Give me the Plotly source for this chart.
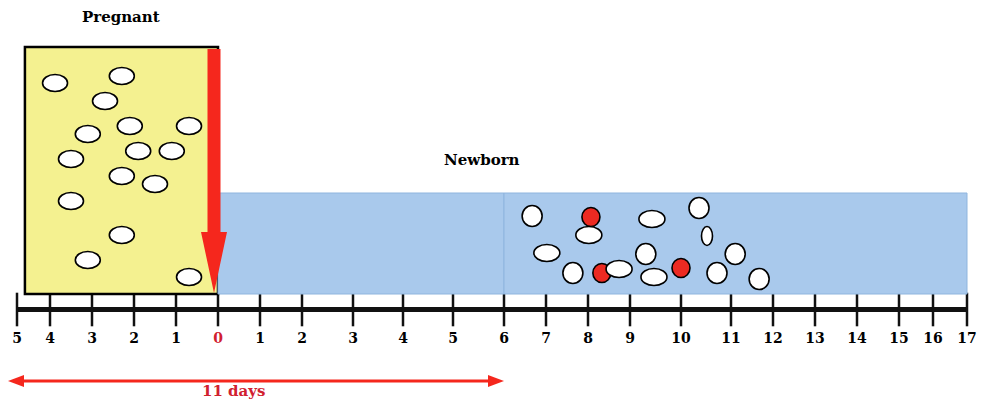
import numpy as np
import plotly.graph_objects as go

# ---------------- data ----------------
tick_days = list(range(-5, 18))
tick_labels = [str(abs(d)) for d in tick_days]

stage_names = ["Pregnant", "Newborn"]
pregnancy_start_day = -4.76
birth_day = 0
newborn_split_day = 6
newborn_end_day = 17
window_start_day = -5
window_end_day = 6
window_label = "11 days"

mother_cell_day = [-3.88, -2.29, -2.69, -3.10, -2.10, -0.69, -1.90, -1.10,
                   -3.50, -2.29, -1.50, -3.50, -2.29, -3.10, -0.69]
mother_cell_level = [211, 218, 193, 160, 168, 168, 143, 143,
                     135, 118, 110, 93, 59, 34, 17]

infant_cell_day = [6.67, 8.07, 8.02, 9.43, 10.36, 10.52, 7.02, 9.31,
                   11.10, 7.64, 8.33, 8.74, 9.47, 10.00, 10.72, 11.67]
infant_cell_level = [78, 77, 59, 75, 86, 58, 41, 40,
                     40, 21, 21, 25, 17, 26, 21, 15]
infant_cell_kind = ["round", "infected", "oval", "oval", "round", "narrow", "oval", "round",
                    "round", "round", "infected", "oval", "oval", "infected", "round", "round"]

# ---------------- layout / style ----------------
WIN_W, WIN_H = 988, 407
OFF = 8                      # page body margin of the browser
W, H = WIN_W - OFF, WIN_H - OFF
TICK_POS = [17, 50, 92, 134, 176, 218, 260, 302, 353, 403, 453, 504,
            546, 588, 630, 681, 731, 773, 815, 857, 899, 933, 967]
BASE_PX = 294          # window pixel row of the compartment bottoms
AXIS_Y = -15.5         # timeline line, units above compartment bottom
LABEL_AXIS_PX = 328    # window pixel row of the tick-label axis
YELLOW_TOP = 247
BLUE_TOP = 101
FONT = "DejaVu Serif"

YELLOW = "#F4F190"
BLUE = "#A9C9EC"
BLUE_EDGE = "#8FB5DE"
RED = "#F5271D"
CELL_RED = "#EC2A22"
TEXT_RED = "#D1202F"

KIND_STYLE = {
    "oval": (26, 17, "white"),
    "round": (20, 21, "white"),
    "narrow": (11, 19, "white"),
    "infected": (18, 19, CELL_RED),
}


def X(d):
    return float(np.interp(d, tick_days, TICK_POS))


shapes = []

# compartments
shapes.append(dict(type="rect", xref="x", yref="y",
                   x0=X(pregnancy_start_day), x1=X(birth_day), y0=0, y1=YELLOW_TOP,
                   fillcolor=YELLOW, line=dict(color="black", width=2.5)))
for a, b in [(birth_day, newborn_split_day), (newborn_split_day, newborn_end_day)]:
    shapes.append(dict(type="rect", xref="x", yref="y",
                       x0=X(a), x1=X(b), y0=0, y1=BLUE_TOP,
                       fillcolor=BLUE, line=dict(color=BLUE_EDGE, width=1)))


def cell(xc, yc, w, h, color):
    return dict(type="circle", xref="x", yref="y",
                x0=xc - w / 2, x1=xc + w / 2, y0=yc - h / 2, y1=yc + h / 2,
                fillcolor=color, line=dict(color="black", width=1.6))


for d, lv in zip(mother_cell_day, mother_cell_level):
    shapes.append(cell(X(d), lv, 25, 17, "white"))
for d, lv, k in zip(infant_cell_day, infant_cell_level, infant_cell_kind):
    w, h, c = KIND_STYLE[k]
    shapes.append(cell(X(d), lv, w, h, c))

# red birth arrow
cx = X(birth_day) - 4
sw, hw, head_top, tip = 6.5, 13, 62, 1
path = (f"M {cx-sw},{YELLOW_TOP-2} L {cx+sw},{YELLOW_TOP-2} L {cx+sw},{head_top} "
        f"L {cx+hw},{head_top} L {cx},{tip} L {cx-hw},{head_top} L {cx-sw},{head_top} Z")
shapes.append(dict(type="path", xref="x", yref="y", path=path,
                   fillcolor=RED, line=dict(color=RED, width=0)))

# 11 days double arrow
ay = -87
xa, xb = X(window_start_day) - 9, X(window_end_day)
hl, hh = 16, 6
shapes.append(dict(type="line", xref="x", yref="y", x0=xa + 8, x1=xb - 8, y0=ay, y1=ay,
                   line=dict(color=RED, width=3)))
shapes.append(dict(type="path", xref="x", yref="y",
                   path=f"M {xa},{ay} L {xa+hl},{ay+hh} L {xa+hl},{ay-hh} Z",
                   fillcolor=RED, line=dict(color=RED, width=0)))
shapes.append(dict(type="path", xref="x", yref="y",
                   path=f"M {xb},{ay} L {xb-hl},{ay+hh} L {xb-hl},{ay-hh} Z",
                   fillcolor=RED, line=dict(color=RED, width=0)))

fig = go.Figure()

# timeline
fig.add_trace(go.Scatter(x=[X(tick_days[0]), X(tick_days[-1])], y=[AXIS_Y, AXIS_Y],
                         mode="lines", line=dict(color="#111111", width=5),
                         hoverinfo="skip", showlegend=False))
fig.add_trace(go.Scatter(x=[X(d) for d in tick_days], y=[AXIS_Y] * len(tick_days),
                         mode="markers",
                         marker=dict(symbol="line-ns", size=24,
                                     line=dict(color="#111111", width=2.5)),
                         hoverinfo="skip", showlegend=False))

ticktext = [f"<span style='color:{TEXT_RED}'>{t}</span>" if d == birth_day else t
            for d, t in zip(tick_days, tick_labels)]

annotations = [
    dict(x=X(pregnancy_start_day) / 2 + X(birth_day) / 2, y=277, xref="x", yref="y",
         text=stage_names[0], showarrow=False,
         font=dict(family=FONT, size=15, color="black", weight="bold")),
    dict(x=X(5.57), y=134, xref="x", yref="y", text=stage_names[1], showarrow=False,
         font=dict(family=FONT, size=15, color="black", weight="bold")),
    dict(x=X(0.36), y=-97, xref="x", yref="y", text=window_label, showarrow=False,
         font=dict(family=FONT, size=15, color=TEXT_RED, weight="bold")),
]

fig.update_layout(
    width=W, height=H, margin=dict(l=0, r=0, t=0, b=0),
    paper_bgcolor="white", plot_bgcolor="white",
    shapes=shapes, annotations=annotations, showlegend=False,
    xaxis=dict(range=[OFF, WIN_W], tickvals=TICK_POS, ticktext=ticktext,
               showgrid=False, zeroline=False, showline=False, ticks="",
               anchor="free", position=(H - (LABEL_AXIS_PX - OFF)) / H,
               tickfont=dict(family=FONT, size=14, color="black", weight="bold"),
               fixedrange=True),
    yaxis=dict(range=[BASE_PX - WIN_H, BASE_PX - OFF], visible=False, showgrid=False,
               zeroline=False, fixedrange=True),
)

fig.write_html("out.html", config={"displayModeBar": False})
